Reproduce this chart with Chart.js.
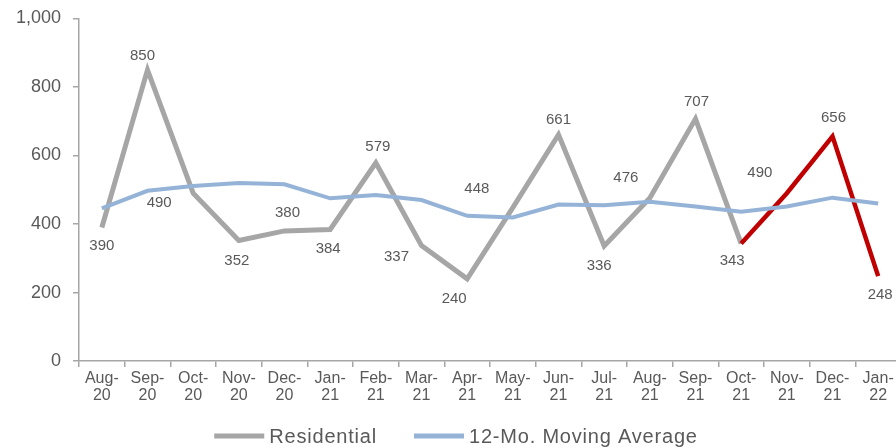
<!DOCTYPE html>
<html>
<head>
<meta charset="utf-8">
<script src="https://cdn.jsdelivr.net/npm/chart.js@4.4.1/dist/chart.umd.min.js"></script>
<style>
  html, body { margin: 0; padding: 0; background: #fff; overflow: hidden; }
  #wrap { position: absolute; left: 0; top: 0; width: 920px; height: 448px; }
</style>
</head>
<body>
<div id="wrap"><canvas id="chart"></canvas></div>
<script>
// DATA
const months = [
    ['Aug-', '20'], ['Sep-', '20'], ['Oct-', '20'], ['Nov-', '20'], ['Dec-', '20'],
    ['Jan-', '21'], ['Feb-', '21'], ['Mar-', '21'], ['Apr-', '21'], ['May-', '21'],
    ['Jun-', '21'], ['Jul-', '21'], ['Aug-', '21'], ['Sep-', '21'], ['Oct-', '21'],
    ['Nov-', '21'], ['Dec-', '21'], ['Jan-', '22']
];
const residential = [390, 850, 490, 352, 380, 384, 579, 337, 240, 448, 661, 336, 476, 707, 343, 490, 656, 248];
const movingAverage = [446, 497, 511, 520, 516, 475, 485, 470, 424, 419, 457, 455, 465, 451, 436, 451, 477, 460];
const yTicks = [0, 200, 400, 600, 800, 1000];
const highlightFrom = 14; // red from Oct-21 on

// label offsets from each point (px)
const labelOffsets = [
    [0, 18], [-5, -14], [-34, 10], [-2, 20], [3, -18], [-2, 19],
    [2, -16], [-25, 11], [-13, 20], [-36, -19], [0, -15], [-5, 20],
    [-24, -20], [1, -17], [-9, 17], [-27, -20], [1, -18], [2, 19]
];

const FONT = 'Liberation Sans, Arial, sans-serif';
const TEXT = '#595959';

// ===================================================
// DATA LABELS
// ===================================================
const pointLabels = {
    id: 'pointLabels',
    afterDatasetsDraw(chart) {
        const ctx = chart.ctx;
        const meta = chart.getDatasetMeta(0);
        ctx.save();
        ctx.font = '15px ' + FONT;
        ctx.fillStyle = TEXT;
        ctx.textAlign = 'center';
        ctx.textBaseline = 'middle';
        meta.data.forEach((pt, i) => {
            const off = labelOffsets[i];
            ctx.fillText(String(residential[i]), pt.x + off[0], pt.y + off[1]);
        });
        ctx.restore();
    }
};

// ===================================================
// LEGEND (drawn by hand, under the axis)
// ===================================================
const bottomLegend = {
    id: 'bottomLegend',
    afterDraw(chart) {
        const ctx = chart.ctx;
        const lineLen = 50, gap = 5, itemGap = 37, y = 436, centerX = 456;
        ctx.save();
        ctx.font = '20px ' + FONT;
        ctx.letterSpacing = '0.8px';
        ctx.textBaseline = 'middle';
        const items = chart.data.datasets.map(ds => ({
            text: ds.label, color: ds.borderColor, w: ctx.measureText(ds.label).width
        }));
        const total = items.reduce((s, it) => s + lineLen + gap + it.w, 0) + itemGap * (items.length - 1);
        let x = centerX - total / 2;
        items.forEach(it => {
            ctx.strokeStyle = it.color;
            ctx.lineWidth = 5;
            ctx.beginPath();
            ctx.moveTo(x, y);
            ctx.lineTo(x + lineLen, y);
            ctx.stroke();
            ctx.fillStyle = TEXT;
            ctx.fillText(it.text, x + lineLen + gap, y + 1);
            x += lineLen + gap + it.w + itemGap;
        });
        ctx.restore();
    }
};

new Chart(document.getElementById('chart'), {
    type: 'line',
    data: {
        labels: months,
        datasets: [
            {
                label: 'Residential',
                data: residential,
                borderColor: '#a6a6a6',
                borderWidth: 5,
                pointRadius: 0,
                tension: 0,
                order: 2,
                segment: {
                    borderColor: c => c.p0DataIndex >= highlightFrom ? '#c00000' : '#a6a6a6',
                    borderWidth: c => c.p0DataIndex >= highlightFrom ? 4.5 : 5
                }
            },
            {
                label: '12-Mo. Moving Average',
                data: movingAverage,
                borderColor: '#95b3d7',
                borderWidth: 4,
                pointRadius: 0,
                tension: 0,
                order: 1
            }
        ]
    },
    options: {
        responsive: true,
        maintainAspectRatio: false,
        animation: false,
        layout: { padding: { left: 0, right: 19, top: 0, bottom: 41 } },
        plugins: {
            tooltip: { enabled: false },
            legend: { display: false }
        },
        scales: {
            x: {
                offset: true,
                grid: { offset: true, drawOnChartArea: false, tickLength: 6, color: '#a6a6a6', lineWidth: 1.5 },
                border: { color: '#a6a6a6', width: 1.5 },
                ticks: {
                    color: TEXT,
                    font: { family: FONT, size: 16, lineHeight: 1.06 },
                    maxRotation: 0,
                    autoSkip: false,
                    padding: 3
                }
            },
            y: {
                min: 0,
                max: 1000,
                afterFit: scale => { scale.width = 79; },
                afterBuildTicks: scale => { scale.ticks = yTicks.map(v => ({ value: v })); },
                grid: { drawOnChartArea: false, tickLength: 6, color: '#a6a6a6', lineWidth: 1.5 },
                border: { color: '#a6a6a6', width: 1.5 },
                ticks: {
                    color: TEXT,
                    font: { family: FONT, size: 18, lineHeight: 0.72 },
                    padding: 12,
                    callback: v => v.toLocaleString('en-US')
                }
            }
        }
    },
    plugins: [pointLabels, bottomLegend]
});
</script>
</body>
</html>
